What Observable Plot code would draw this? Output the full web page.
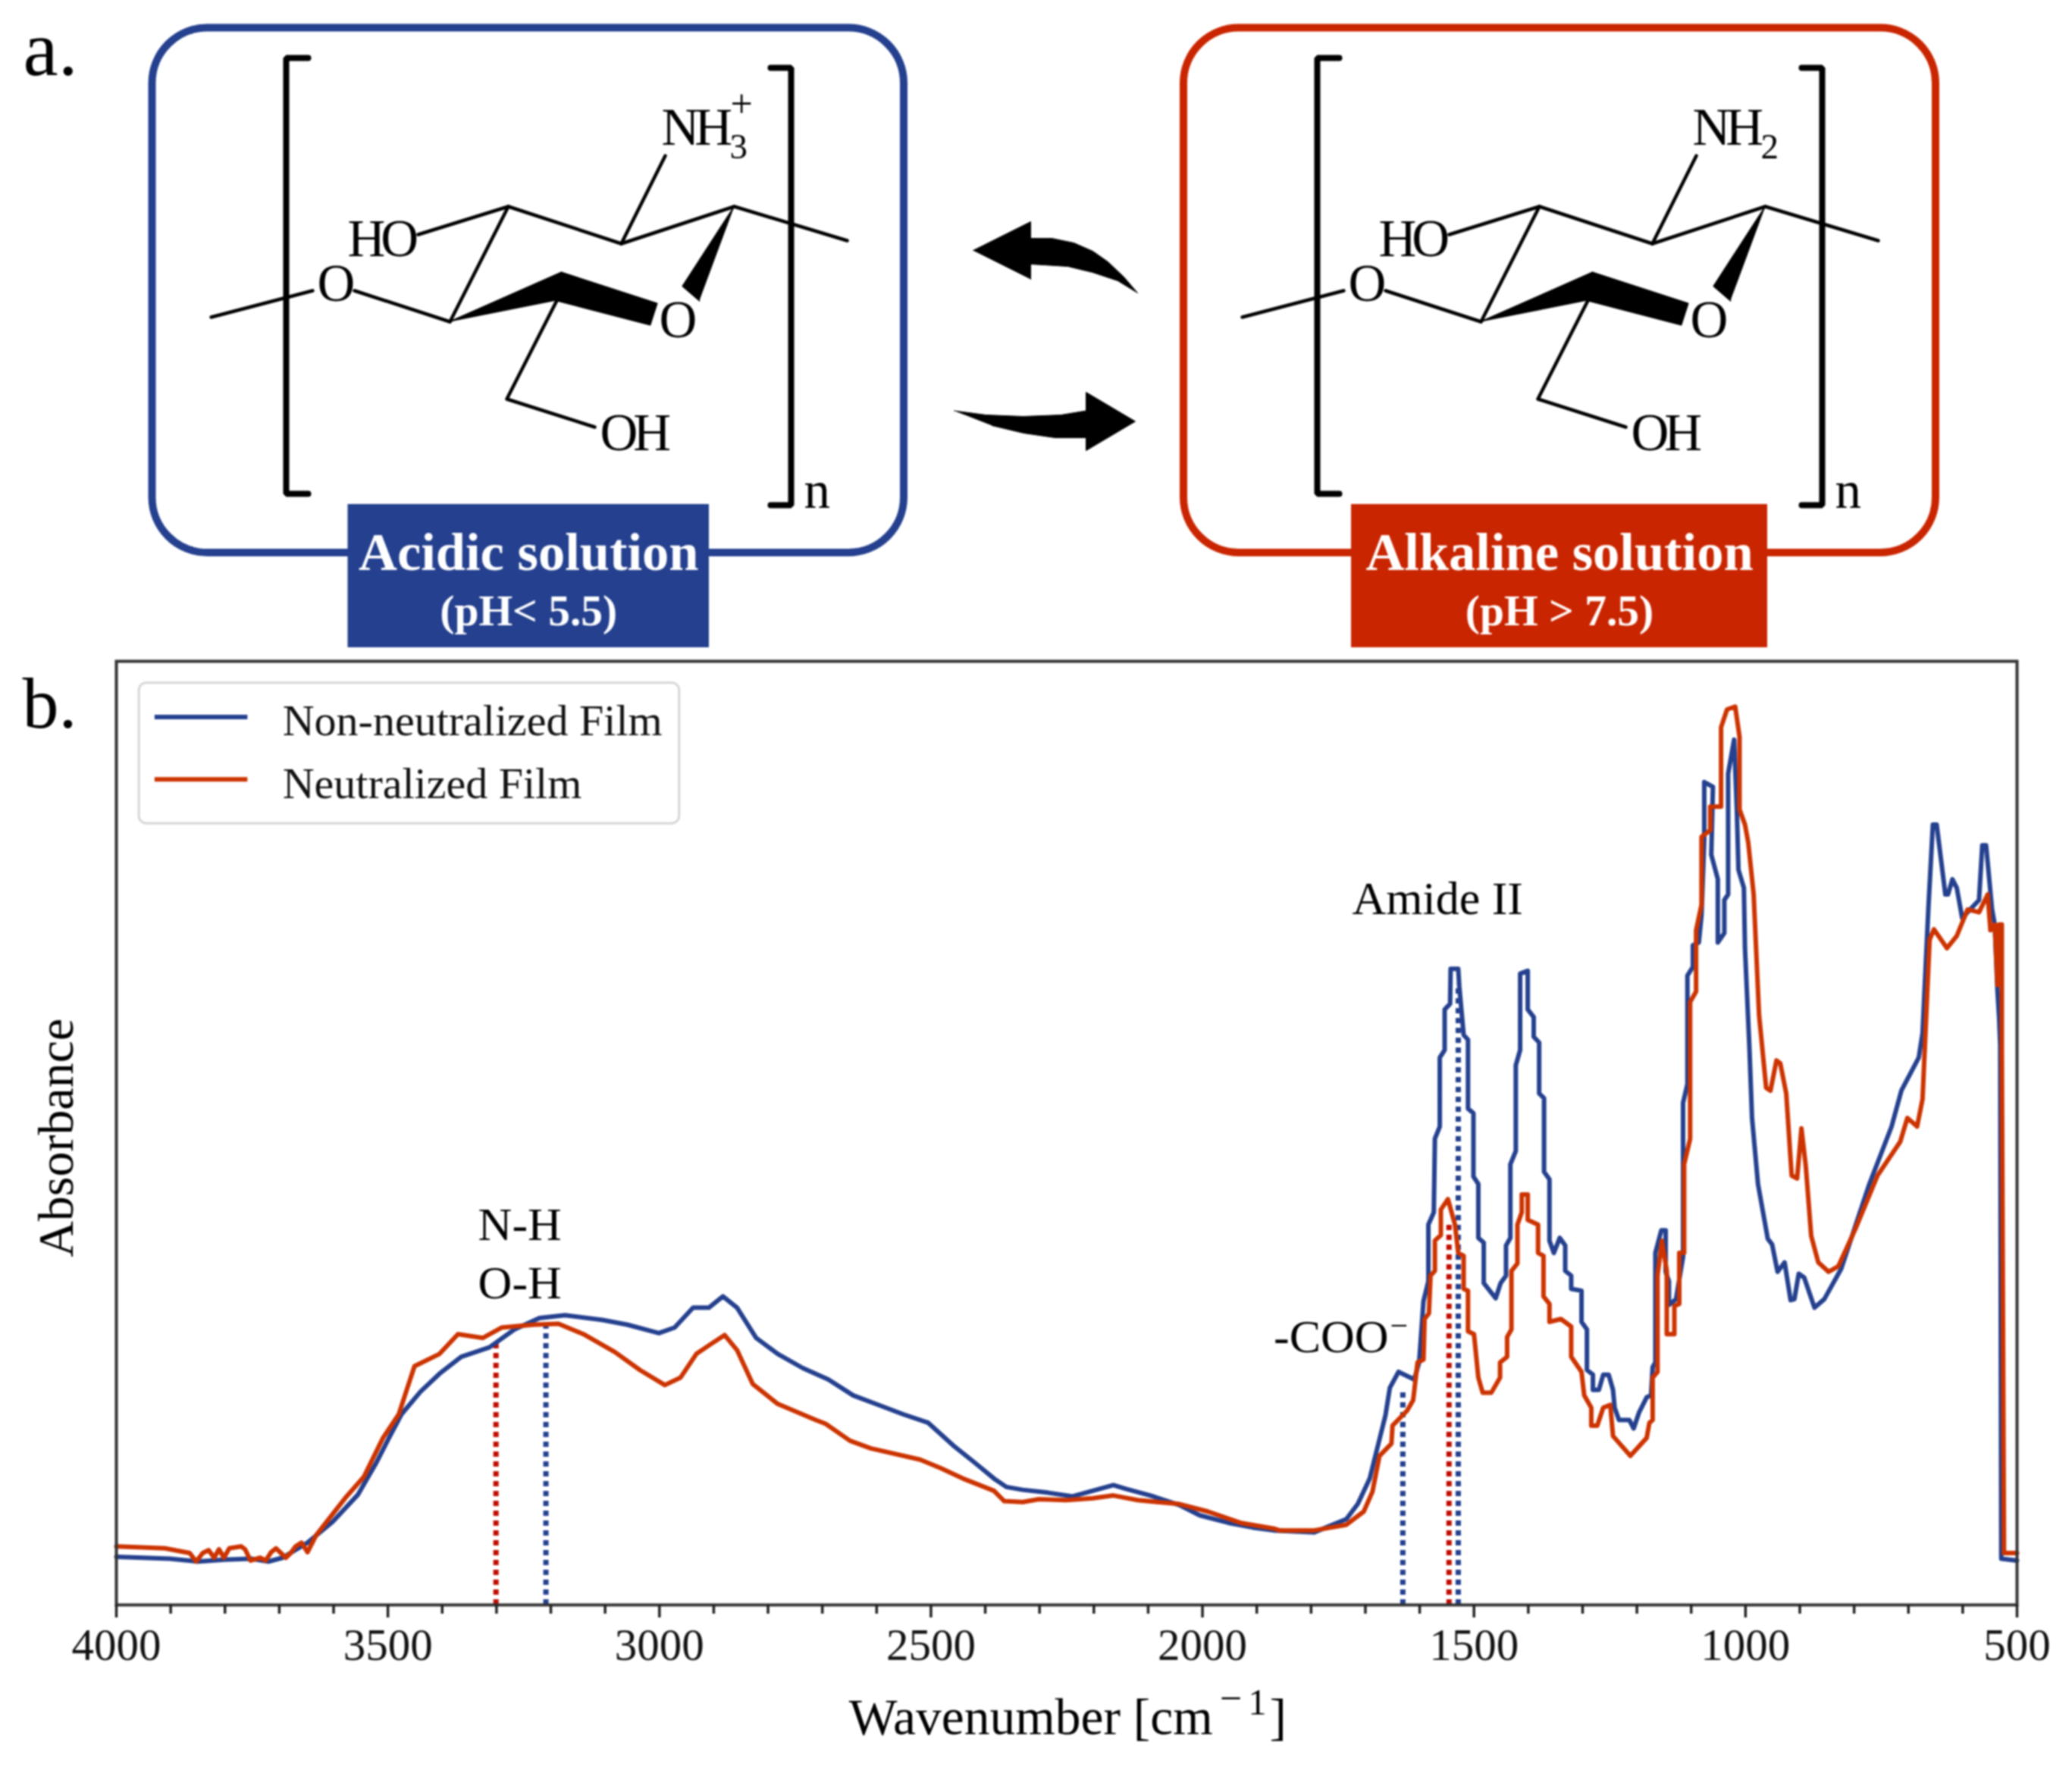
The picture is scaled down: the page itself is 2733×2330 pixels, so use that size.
<!DOCTYPE html>
<html><head><meta charset="utf-8">
<script src="https://cdn.jsdelivr.net/npm/d3@7"></script>
<script src="https://cdn.jsdelivr.net/npm/@observablehq/plot@0.6"></script>
<style>html,body{margin:0;padding:0;background:#fff}svg{display:block;filter:blur(0.9px)}</style>
</head><body><div id="chart"></div>
<script>
// ---- panel b: spectra as [wavenumber, absorbance (% of axis height)] ----
const nonNeutralized = [[4000,5.1],[3902,4.9],[3850,4.6],[3800,4.8],[3752,4.9],[3720,4.6],[3694,5.0],[3648,6.6],[3602,8.8],[3555,11.7],[3521,15.1],[3498,17.7],[3475,20.2],[3440,22.6],[3405,24.5],[3365,26.3],[3313,27.3],[3267,29.2],[3221,30.4],[3174,30.7],[3105,30.2],[3059,29.7],[3001,28.8],[2972,29.4],[2938,31.5],[2909,31.5],[2883,32.7],[2857,31.5],[2822,28.3],[2782,26.6],[2736,25.1],[2689,23.9],[2643,22.2],[2597,21.2],[2551,20.2],[2505,19.3],[2459,16.9],[2422,15.2],[2384,13.4],[2361,12.5],[2331,12.2],[2285,11.9],[2240,11.5],[2202,12.1],[2164,12.7],[2141,12.3],[2096,11.6],[2043,10.6],[2005,9.5],[1952,8.7],[1907,8.2],[1869,7.9],[1794,7.7],[1735,9.1],[1714,10.7],[1692,13.4],[1676,17.1],[1663,20.1],[1655,23.0],[1639,24.7],[1610,23.9],[1601,25.7],[1593,32.2],[1584,34.3],[1584,40.3],[1574,41.6],[1572,49.4],[1563,50.7],[1563,58.0],[1554,58.8],[1554,63.1],[1544,63.7],[1543,67.4],[1529,67.4],[1527,65.5],[1519,60.4],[1511,59.9],[1511,52.6],[1501,52.1],[1501,45.4],[1492,44.6],[1492,38.9],[1482,38.4],[1482,34.1],[1460,32.5],[1451,34.1],[1441,34.9],[1441,38.1],[1433,38.9],[1433,46.7],[1423,48.1],[1423,57.2],[1415,58.8],[1415,66.9],[1401,67.2],[1401,63.1],[1390,62.3],[1390,60.2],[1380,59.6],[1380,54.2],[1371,53.7],[1371,45.9],[1361,45.1],[1361,38.6],[1353,37.3],[1342,38.9],[1332,38.1],[1332,35.4],[1321,34.9],[1321,33.5],[1302,33.3],[1302,30.0],[1292,29.2],[1292,24.9],[1281,24.4],[1281,22.8],[1270,22.8],[1262,24.4],[1252,24.4],[1244,22.8],[1241,20.9],[1233,19.6],[1214,19.6],[1206,18.7],[1196,20.4],[1182,22.0],[1174,22.2],[1171,25.2],[1166,25.7],[1166,37.3],[1155,39.7],[1147,39.7],[1147,35.3],[1141,34.3],[1141,31.8],[1128,32.4],[1115,36.9],[1115,53.2],[1107,55.2],[1107,66.7],[1097,67.6],[1097,69.9],[1086,70.2],[1081,73.1],[1076,81.1],[1076,87.2],[1060,86.7],[1063,79.5],[1051,76.9],[1051,70.2],[1039,71.2],[1039,74.7],[1032,75.3],[1032,88.1],[1021,91.7],[1016,84.3],[1013,77.9],[1003,76.0],[1001,69.6],[993,59.3],[988,51.6],[977,44.6],[959,38.8],[951,38.2],[941,35.3],[928,36.3],[917,32.3],[910,32.4],[902,35.1],[892,34.7],[873,31.5],[855,32.4],[824,35.6],[772,44.6],[731,50.7],[713,54.5],[681,58.0],[674,60.6],[663,74.1],[655,82.7],[648,82.7],[632,75.3],[627,75.3],[619,76.9],[611,76.0],[601,72.8],[570,74.7],[564,80.5],[557,80.5],[546,73.7],[541,72.1],[536,65.1],[533,62.2],[531,59.3],[529,4.9],[500,4.7]];
const neutralized = [[4000,6.2],[3911,6.0],[3865,5.5],[3853,4.6],[3841,5.5],[3830,5.8],[3820,5.0],[3811,5.9],[3802,5.0],[3792,6.0],[3770,6.2],[3763,5.9],[3753,4.7],[3735,5.0],[3725,4.7],[3715,5.6],[3706,6.0],[3697,5.5],[3688,5.0],[3679,5.5],[3670,6.2],[3659,6.6],[3648,5.6],[3632,7.4],[3579,11.3],[3544,13.6],[3509,17.7],[3480,20.2],[3463,23.2],[3451,25.3],[3405,26.6],[3371,28.7],[3325,28.3],[3290,29.4],[3232,29.7],[3186,29.8],[3140,28.7],[3082,26.8],[3036,24.9],[2990,23.3],[2961,24.1],[2932,26.6],[2909,27.5],[2880,28.6],[2857,27.0],[2828,23.4],[2782,21.3],[2712,19.6],[2694,19.2],[2649,17.4],[2611,16.6],[2520,15.4],[2482,14.5],[2437,13.3],[2384,12.1],[2365,11.0],[2331,10.9],[2301,11.2],[2251,11.1],[2202,11.3],[2164,11.6],[2119,11.1],[2043,10.7],[1990,9.9],[1930,8.7],[1869,8.1],[1858,7.9],[1794,7.9],[1735,8.5],[1703,9.9],[1687,12.0],[1674,15.8],[1652,17.1],[1650,19.0],[1623,20.6],[1612,21.7],[1604,25.7],[1593,26.0],[1591,30.3],[1583,30.9],[1580,34.9],[1572,35.4],[1572,38.6],[1561,39.2],[1561,41.9],[1548,43.0],[1535,40.3],[1529,37.3],[1519,37.0],[1519,33.5],[1511,33.3],[1511,29.0],[1500,28.7],[1492,24.1],[1484,22.5],[1468,22.5],[1452,24.1],[1452,25.7],[1439,26.3],[1439,28.4],[1431,29.2],[1431,35.4],[1420,36.2],[1420,40.3],[1412,41.6],[1412,43.5],[1401,43.5],[1401,40.8],[1382,40.3],[1382,37.3],[1372,37.0],[1372,32.7],[1361,31.9],[1361,30.0],[1340,30.3],[1321,29.5],[1321,26.3],[1302,24.7],[1297,22.2],[1284,20.9],[1284,19.0],[1273,19.0],[1262,20.9],[1249,21.2],[1244,17.9],[1212,15.8],[1182,17.7],[1177,19.3],[1171,19.6],[1171,24.1],[1162,24.7],[1162,34.9],[1154,38.6],[1145,35.4],[1145,28.7],[1131,28.7],[1131,31.7],[1122,31.9],[1122,37.3],[1113,37.3],[1113,46.7],[1102,49.4],[1102,63.9],[1091,65.0],[1091,71.5],[1081,74.2],[1081,81.4],[1065,82.1],[1065,84.6],[1045,84.6],[1045,93.0],[1034,94.9],[1019,95.2],[1011,92.0],[1011,84.3],[1001,82.7],[995,80.8],[985,75.3],[975,62.5],[962,54.8],[954,54.5],[943,57.7],[936,57.4],[925,54.2],[915,45.5],[905,45.2],[897,50.5],[889,46.5],[879,39.1],[866,36.3],[847,35.3],[829,35.9],[798,39.8],[757,45.5],[715,49.1],[702,51.6],[684,50.7],[674,53.6],[661,70.5],[653,71.6],[629,69.6],[611,70.9],[591,73.7],[570,73.4],[554,75.3],[549,71.5],[541,72.1],[536,65.7],[533,72.1],[528,72.1],[528,59.3],[524,5.5],[500,5.5]];
const seriesNames = ["Non-neutralized Film", "Neutralized Film"];
const bandMarkers = [
  {wn:3301, top:27.9, color:"#c00d00"}, {wn:3209, top:29.8, color:"#24408e"},
  {wn:1631, top:22.5, color:"#24408e"}, {wn:1546, top:40.5, color:"#c00d00"},
  {wn:1529, top:65.8, color:"#24408e"}
];
const bandLabels = [
  {text:"N-H", wn:3257, a:38.7}, {text:"O-H", wn:3257, a:32.5},
  {text:"Amide II", wn:1567, a:73.2}, {text:"-COO", wn:1763, a:26.8}
];
const majorTicks = [4000,3500,3000,2500,2000,1500,1000,500];
const minorTicks = d3.range(500,4001,100).filter(d => !majorTicks.includes(d));

// ---- panel a: diagram geometry in figure units ----
const BLUE="#24408e", RED="#c92500", LINE_BLUE="#24408e", LINE_RED="#cc3300";
const serif='"Liberation Serif", serif';
const shift = 1360; // the second structure is the first one moved right
const brackets = [[[406,76],[377,76],[377,651],[406,651]], [[1016,89],[1043,89],[1043,666],[1016,666]]];
const bonds = [[[278,418],[412,383]],[[467,383],[593,424]],[[593,424],[670,272]],[[551,309],[670,272]],[[670,272],[819,321]],[[819,321],[877,205]],[[819,321],[968,272]],[[968,272],[1117,317]],[[734,396],[668,526],[784,563]]];
const wedges = [[[968,272],[900,377],[922,396]],[[593,424],[740,359],[734,396]],[[740,359],[866,400],[857,428],[734,396]]];
const atoms = [
  {t:"HO",x:458,y:337},{t:"O",x:418,y:396},{t:"O",x:869,y:444},{t:"OH",x:791,y:593}
];
const arrows = [
  [[1283,330],[1359,292],[1359,314],[1387,314],[1416,320],[1441,331],[1461,345],[1482,365],[1500,386],[1474,370],[1441,359],[1408,351],[1359,348],[1359,368]],
  [[1258,541.5],[1300,547],[1349,549],[1399,547],[1432,541.5],[1432,517],[1497,555.5],[1432,594],[1432,577],[1391,577],[1350,571],[1308,561]]
];
const boxes = [{x1:200.5,x2:1192,stroke:BLUE},{x1:1561,x2:2553,stroke:RED}];
const plates = [
  {x1:458.5,x2:935,fill:BLUE,title:"Acidic solution",ph:"(pH< 5.5)"},
  {x1:1782,x2:2331,fill:RED,title:"Alkaline solution",ph:"(pH > 7.5)"}
];

function flat(groups){return groups.flatMap((g,i)=>g.map(p=>({x:p[0],y:p[1],g:i})));}
const both = groups => [...groups, ...groups.map(g=>g.map(p=>[p[0]+shift,p[1]]))];

const topT = {fontFamily:serif, textAnchor:"start", lineAnchor:"bottom", fill:"#000", fontSize:69};
const allAtoms = [...atoms, ...atoms.map(a=>({...a,x:a.x+shift})),
  {t:"NH",x:872,y:190},{t:"NH",x:872+shift,y:190},{t:"n",x:1060,y:669},{t:"n",x:1060+shift,y:669}];

const panelA = Plot.plot({
  width:2733, height:860, margin:0,
  x:{domain:[0,2733],axis:null}, y:{domain:[860,0],axis:null},
  marks:[
    Plot.rect(boxes,{x1:"x1",x2:"x2",y1:()=>36.5,y2:()=>729,rx:73,stroke:"stroke",strokeWidth:10,fill:"none"}),
    Plot.rect(plates,{x1:"x1",x2:"x2",y1:()=>665,y2:()=>854,fill:"fill"}),
    Plot.text(plates,{x:d=>(d.x1+d.x2)/2,y:()=>751,text:"title",fill:"#fff",fontFamily:serif,fontWeight:"bold",fontSize:70.5,lineAnchor:"bottom"}),
    Plot.text(plates,{x:d=>(d.x1+d.x2)/2,y:()=>824,text:"ph",fill:"#fff",fontFamily:serif,fontWeight:"bold",fontSize:57.5,lineAnchor:"bottom"}),
    Plot.line(flat(both(brackets)),{x:"x",y:"y",z:"g",stroke:"#000",strokeWidth:8,strokeLinejoin:"miter"}),
    Plot.line(flat(both(bonds)),{x:"x",y:"y",z:"g",stroke:"#000",strokeWidth:4.5}),
    Plot.line(flat(both(wedges)),{x:"x",y:"y",z:"g",stroke:"#000",strokeWidth:2,fill:"#000"}),
    Plot.line(flat(arrows),{x:"x",y:"y",z:"g",stroke:"#000",strokeWidth:1,fill:"#000"}),
    Plot.text(allAtoms,{...topT,x:"x",y:"y",text:"t"}),
    Plot.text([{t:"3",x:962,y:208},{t:"2",x:962+shift,y:208}],{...topT,x:"x",y:"y",text:"t",fontSize:47}),
    Plot.text([{t:"+",x:963,y:153}],{...topT,x:"x",y:"y",text:"t",fontSize:52}),
    Plot.text([{t:"a.",x:30,y:98}],{...topT,x:"x",y:"y",text:"t",fontSize:104})
  ]
});

const labelT = {fontFamily:serif, fill:"#000", lineAnchor:"bottom"};
const panelB = Plot.plot({
  width:2733, height:1470, marginTop:12, marginBottom:213, marginLeft:153, marginRight:73,
  x:{domain:[4000,500]}, y:{domain:[0,100],axis:null},
  marks:[
    Plot.ruleX(bandMarkers,{x:"wn",y1:0,y2:"top",stroke:"color",strokeWidth:7,strokeDasharray:"7 6"}),
    Plot.line(nonNeutralized,{x:d=>d[0],y:d=>d[1],stroke:LINE_BLUE,strokeWidth:6}),
    Plot.line(neutralized,{x:d=>d[0],y:d=>d[1],stroke:LINE_RED,strokeWidth:6}),
    Plot.frame({stroke:"#333",strokeWidth:4}),
    Plot.axisX({ticks:minorTicks,tickSize:12,tickFormat:()=>"",label:null,stroke:"#222",strokeWidth:3.5}),
    Plot.axisX({ticks:majorTicks,tickSize:17,tickPadding:14,tickFormat:d=>String(d),label:null,fontSize:59,fontFamily:serif,stroke:"#222",strokeWidth:3.5,fill:"#111"}),
    // legend
    Plot.rect([0],{x1:()=>3958,x2:()=>2963,y1:()=>82.8,y2:()=>97.7,rx:10,stroke:"#d6d6d6",strokeWidth:3,fill:"#fff"}),
    Plot.ruleY([{a:94.1,c:LINE_BLUE},{a:87.5,c:LINE_RED}],{y:"a",x1:()=>3929,x2:()=>3758,stroke:"c",strokeWidth:6}),
    Plot.text([{t:seriesNames[0],a:92.2},{t:seriesNames[1],a:85.5}],{...labelT,x:()=>3694,y:"a",text:"t",textAnchor:"start",fontSize:58,fill:"#111"}),
    // band annotations
    Plot.text(bandLabels,{...labelT,x:"wn",y:"a",text:"text",fontSize:62}),
    Plot.text(["\u2212"],{...labelT,x:()=>1638,y:()=>28.5,fontSize:42}),
    // panel letter
    Plot.text(["b."],{...labelT,x:()=>4173,y:()=>93.0,textAnchor:"start",fontSize:96}),
    // axis titles
    Plot.text(["Absorbance"],{...labelT,x:()=>4000,y:()=>49.5,dx:-58,rotate:-90,fontSize:66}),
    Plot.text(["Wavenumber [cm"],{...labelT,x:()=>2651,y:()=>-13.7,textAnchor:"start",fontSize:67.5}),
    Plot.text(["\u2212"],{...labelT,x:()=>1948,y:()=>-11.3,fontSize:52}),
    Plot.text(["1"],{...labelT,x:()=>1899,y:()=>-11.6,fontSize:48}),
    Plot.text(["]"],{...labelT,x:()=>1861,y:()=>-13.7,fontSize:67.5})
  ]
});
const host=document.getElementById("chart");
host.append(panelA,panelB);
// molecular formula glyphs sit tight together in the drawing
panelA.querySelectorAll("text").forEach(t=>{ if(["HO","OH","NH"].includes(t.textContent)) t.style.letterSpacing="-6px"; });
</script></body></html>
